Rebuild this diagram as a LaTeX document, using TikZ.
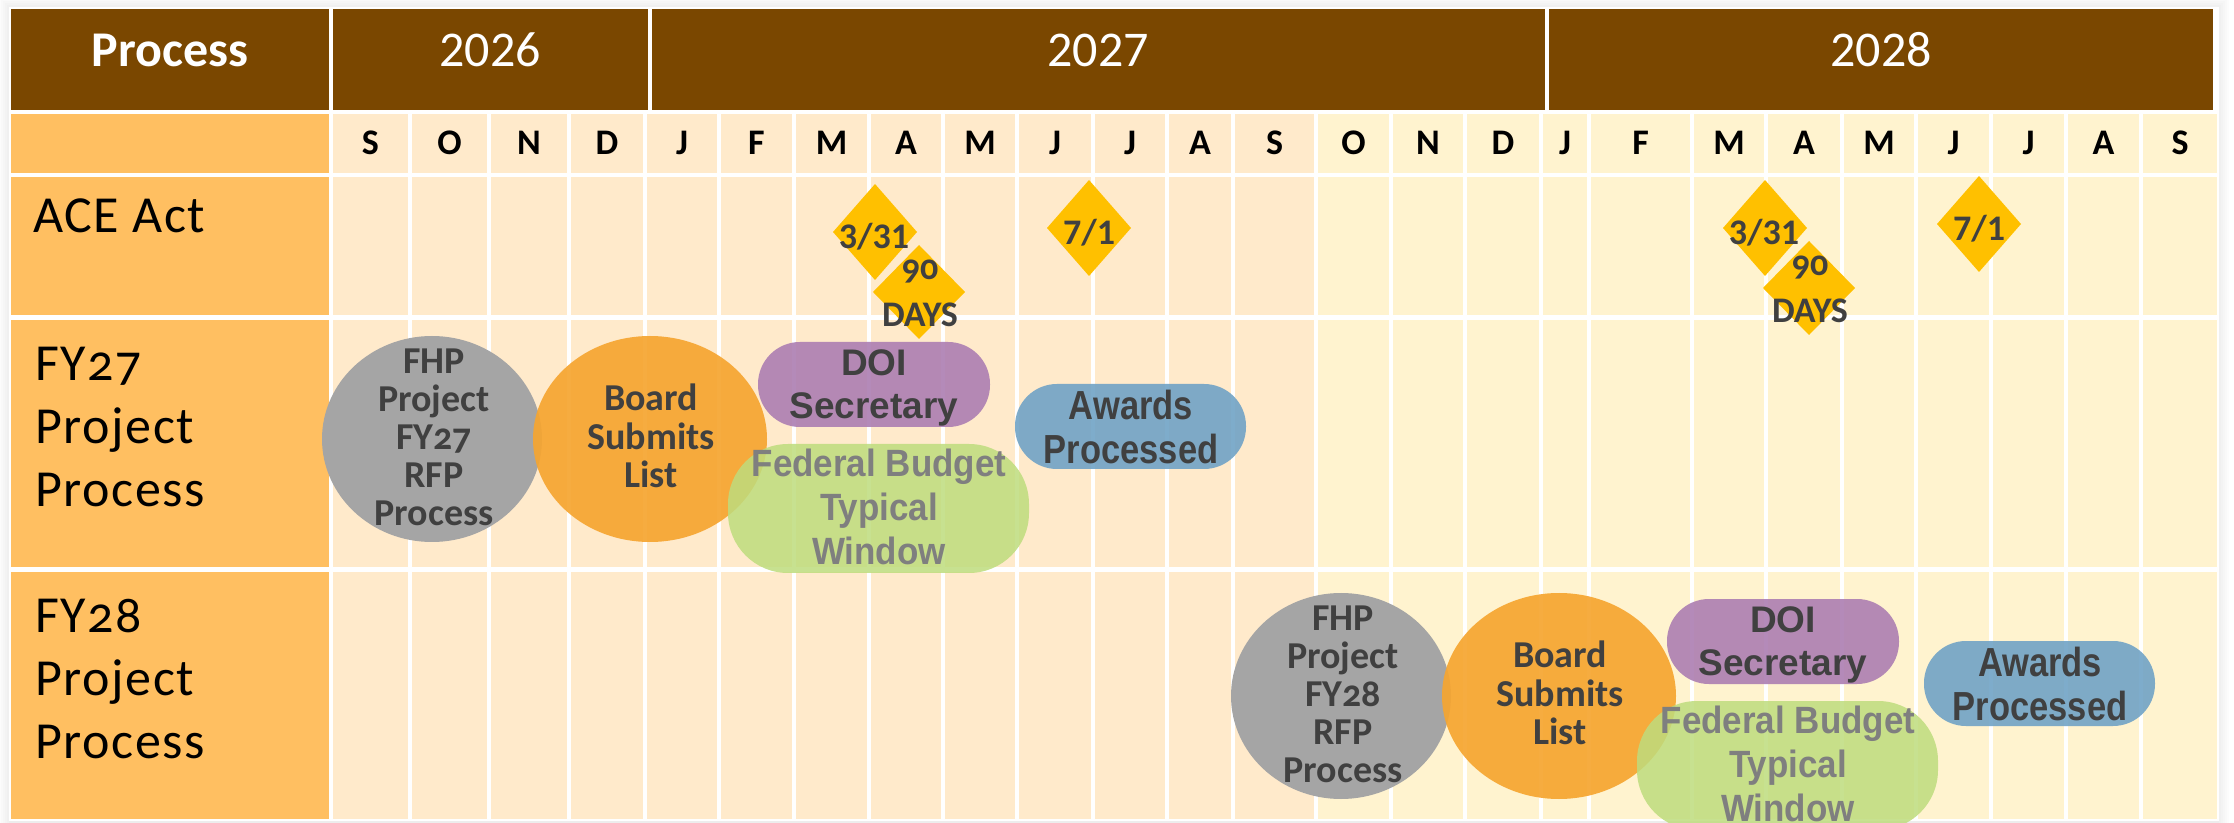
\documentclass[tikz,border=0pt]{standalone}
\usepackage{xcolor}
\usepackage{fontspec}
\setmainfont{Carlito}
\newfontfamily\arialfont{Liberation Sans}
\newfontfamily\narrowfont[FakeStretch=0.85]{Liberation Sans}
\newfontfamily\budgetfont[FakeStretch=0.92]{Liberation Sans}
\newcommand{\oldnums}{\addfontfeatures{Numbers=OldStyle}}

\definecolor{headbrown}{RGB}{122,71,0}
\definecolor{labelorange}{RGB}{255,191,97}
\definecolor{peach}{RGB}{255,234,203}
\definecolor{cream}{RGB}{255,243,207}
\definecolor{gold}{RGB}{255,192,0}
\definecolor{darktext}{RGB}{64,64,64}
\definecolor{budgettext}{RGB}{127,127,127}
\definecolor{fhpgray}{RGB}{165,165,165}
\definecolor{boardorange}{RGB}{246,165,48}
\definecolor{doipurple}{RGB}{172,126,178}
\definecolor{budgetgreen}{RGB}{190,220,125}
\definecolor{awardblue}{RGB}{112,163,198}

\begin{document}
\begin{tikzpicture}[x=0.5pt, y=-0.5pt,
    head/.style={text=white, inner sep=0pt, font=\fontsize{25}{30}\selectfont},
    month/.style={inner sep=0pt, font=\fontsize{18}{20}\selectfont\bfseries},
    rowlabel/.style={inner sep=0pt, align=left, font=\fontsize{26}{31.5}\selectfont\addfontfeatures{LetterSpace=3}},
    mstone/.style={text=darktext, inner sep=0pt, align=center, font=\fontsize{18}{23.5}\selectfont\bfseries},
    bubble/.style={text=darktext, inner sep=0pt, align=center}]
    \useasboundingbox (0,0) rectangle (2234,823);
    \clip (0,0) rectangle (2234,823);
    % soft shadow round the table
    \foreach \s in {2,4,...,12}
        \fill[black, opacity=0.012] (11-\s,9-\s) rectangle (2217+\s,821+\s);
    \fill[white] (9,7) rectangle (2219,821);

    % header
    \fill[headbrown] (11,9) rectangle (329,110);
    \fill[headbrown] (333,9) rectangle (648,110);
    \fill[headbrown] (652,9) rectangle (1545,110);
    \fill[headbrown] (1549,9) rectangle (2213,110);
    \node[head, anchor=base] (proc) at (170,67) {\bfseries Process};
    \node[head, anchor=base] (y26) at (490,67) {2026};
    \node[head, anchor=base] (y27) at (1098,67) {2027};
    \node[head, anchor=base] (y28) at (1881,67) {2028};

    % row labels
    \foreach \t/\u in {114/173, 177/315, 320/567, 572/819}
        \fill[labelorange] (11,\t) rectangle (329,\u);
    \node[rowlabel, anchor=base west] (ace) at (33,233) {ACE Act};
    \node[rowlabel, anchor=base west] (fy27) at (35,507) {{\oldnums FY27}\\Project\\Process};
    \node[rowlabel, anchor=base west] (fy28) at (35,758) {{\oldnums FY28}\\Project\\Process};

    % month columns
    \foreach \a/\b/\m/\c in {331/410/S/peach, 410/489/O/peach, 489/569/N/peach,
            569/645/D/peach, 645/719/J/peach, 719/794/F/peach, 794/869/M/peach,
            869/943/A/peach, 943/1017/M/peach, 1017/1093/J/peach, 1093/1167/J/peach,
            1167/1233/A/peach, 1233/1316/S/peach, 1316/1391/O/cream, 1391/1465/N/cream,
            1465/1541/D/cream, 1541/1589/J/cream, 1589/1692/F/cream, 1692/1766/M/cream,
            1766/1842/A/cream, 1842/1916/M/cream, 1916/1991/J/cream, 1991/2066/J/cream,
            2066/2141/A/cream, 2141/2219/S/cream}
    {
        \foreach \t/\u in {114/173, 177/315, 320/567, 572/819}
            \fill[\c] (\a+2,\t) rectangle (\b-2,\u);
        \node[month, anchor=base] (mon\a) at ({(\a+\b)/2},155) {\m};
    }

    % ACE Act milestones
    \begin{scope}
        \fill[gold] (875,184) -- (917,232) -- (875,280) -- (833,232) -- cycle;
        \fill[gold] (919,245) -- (965,292) -- (919,339) -- (873,292) -- cycle;
        \fill[gold] (1089,180) -- (1131,228) -- (1089,276) -- (1047,228) -- cycle;
        \node[mstone, anchor=base] (due27) at (874,249) {3/31};
        \node[mstone, anchor=base] (days27) at (920,327) {{\oldnums 90}\\DAYS};
        \node[mstone, anchor=base] (jul27) at (1089,245) {7/1};
    \end{scope}
    \begin{scope}[shift={(890,-4)}]
        \fill[gold] (875,184) -- (917,232) -- (875,280) -- (833,232) -- cycle;
        \fill[gold] (919,245) -- (965,292) -- (919,339) -- (873,292) -- cycle;
        \fill[gold] (1089,180) -- (1131,228) -- (1089,276) -- (1047,228) -- cycle;
        \node[mstone, anchor=base] (due28) at (874,249) {3/31};
        \node[mstone, anchor=base] (days28) at (920,327) {{\oldnums 90}\\DAYS};
        \node[mstone, anchor=base] (jul28) at (1089,245) {7/1};
    \end{scope}

    % FY27 project process
    \begin{scope}
        \fill[fhpgray] (432,439) ellipse [x radius=110, y radius=103];
        \fill[boardorange, opacity=0.92] (650,439) ellipse [x radius=117, y radius=103];
        \fill[budgetgreen, opacity=0.85, rounded corners=30pt] (728,444) rectangle (1029,573);
        \fill[doipurple, opacity=0.9, rounded corners=21pt] (758,342) rectangle (990,427);
        \fill[awardblue, opacity=0.9, rounded corners=21pt] (1015,384) rectangle (1246,469);
        \node[bubble, font=\fontsize{19}{19}\selectfont\bfseries] (fhp27) at (434,437)
            {FHP\\Project\\{\oldnums FY27}\\RFP\\Process};
        \node[bubble, font=\fontsize{19}{19.25}\selectfont\bfseries] (board27) at (651,436)
            {Board\\Submits\\List};
        \node[bubble, font=\arialfont\fontsize{18.5}{21.5}\selectfont\bfseries] (doi27) at (874,388)
            {DOI\\Secretary};
        \node[bubble, font=\narrowfont\fontsize{20.3}{22}\selectfont\bfseries] (awards27) at (1131,427)
            {Awards\\Processed};
        \node[bubble, text=budgettext, font=\budgetfont\fontsize{19}{22}\selectfont\bfseries] (budget27) at (879,507)
            {Federal Budget\\Typical\\Window};
    \end{scope}
    % FY28 project process
    \begin{scope}[shift={(909,257)}]
        \fill[fhpgray] (432,439) ellipse [x radius=110, y radius=103];
        \fill[boardorange, opacity=0.92] (650,439) ellipse [x radius=117, y radius=103];
        \fill[budgetgreen, opacity=0.85, rounded corners=30pt] (728,444) rectangle (1029,573);
        \fill[doipurple, opacity=0.9, rounded corners=21pt] (758,342) rectangle (990,427);
        \fill[awardblue, opacity=0.9, rounded corners=21pt] (1015,384) rectangle (1246,469);
        \node[bubble, font=\fontsize{19}{19}\selectfont\bfseries] (fhp28) at (434,437)
            {FHP\\Project\\{\oldnums FY28}\\RFP\\Process};
        \node[bubble, font=\fontsize{19}{19.25}\selectfont\bfseries] (board28) at (651,436)
            {Board\\Submits\\List};
        \node[bubble, font=\arialfont\fontsize{18.5}{21.5}\selectfont\bfseries] (doi28) at (874,388)
            {DOI\\Secretary};
        \node[bubble, font=\narrowfont\fontsize{20.3}{22}\selectfont\bfseries] (awards28) at (1131,427)
            {Awards\\Processed};
        \node[bubble, text=budgettext, font=\budgetfont\fontsize{19}{22}\selectfont\bfseries] (budget28) at (879,507)
            {Federal Budget\\Typical\\Window};
    \end{scope}
\end{tikzpicture}
\end{document}
